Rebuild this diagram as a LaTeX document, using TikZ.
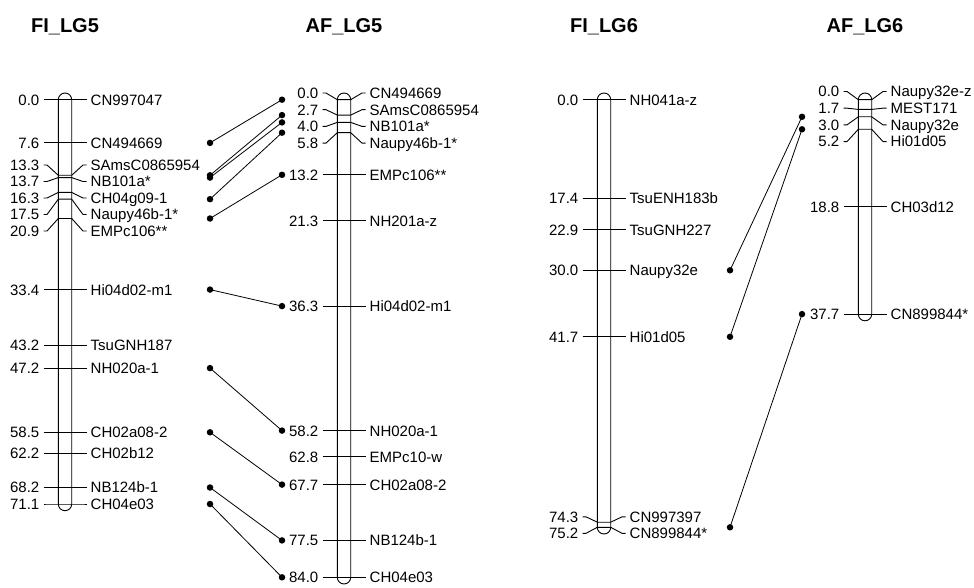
\documentclass[tikz,border=0pt]{standalone}
\usepackage{fontspec}
\setmainfont{Liberation Sans}
\begin{document}
\begin{tikzpicture}[x=1pt,y=-1pt,
  tick/.style={line width=0.9pt},
  chrom/.style={line width=0.9pt},
  conn/.style={line width=0.8pt},
  num/.style={inner sep=0pt, anchor=base east, font=\fontsize{15}{18}\selectfont},
  lab/.style={inner sep=0pt, anchor=base west, font=\fontsize{15}{18}\selectfont},
  ttl/.style={inner sep=0pt, font=\bfseries\fontsize{20}{24}\selectfont},
  dot/.style={circle, fill=black, inner sep=0pt, minimum size=6.5pt}]
\useasboundingbox (0,0) rectangle (974,588);
% chromosome macro: #1 cx, #2 top y, #3 bottom y
\newcommand\chromo[3]{%
  \draw[chrom] (#1-6.7,#3) -- (#1-6.7,#2) arc[start angle=180, end angle=0, radius=6.7pt]
    -- (#1+6.7,#3) arc[start angle=0, end angle=-180, radius=6.7pt] -- cycle;}
% marker macro: #1 id, #2 cx, #3 marker y, #4 label y, #5 number, #6 name
\newcommand\mk[6]{%
  \draw[tick] (#2-21.5,#4) -- (#2-18,#4) -- (#2-6.7,#3) -- (#2+6.7,#3) -- (#2+18,#4) -- (#2+21.5,#4);
  \node[num] (#1n) at (#2-25.5,#4+5.4) {#5};
  \node[lab] (#1l) at (#2+25.5,#4+5.4) {#6};}

% titles
\node[ttl] (t1) at (65,27) {FI\_LG5};
\node[ttl] (t2) at (344,27) {AF\_LG5};
\node[ttl] (t3) at (604,27) {FI\_LG6};
\node[ttl] (t4) at (865,27) {AF\_LG6};

% FI_LG5
\chromo{65}{99.7}{504.0}
\mk{a1}{65}{99.7}{99.7}{0.0}{CN997047}
\mk{a2}{65}{142.9}{142.9}{7.6}{CN494669}
\mk{a3}{65}{175.3}{165}{13.3}{SAmsC0865954}
\mk{a4}{65}{177.6}{181.5}{13.7}{NB101a*}
\mk{a5}{65}{192.4}{198}{16.3}{CH04g09-1}
\mk{a6}{65}{199.2}{214.5}{17.5}{Naupy46b-1*}
\mk{a7}{65}{218.5}{231}{20.9}{EMPc106**}
\mk{a8}{65}{289.6}{289.6}{33.4}{Hi04d02-m1}
\mk{a9}{65}{345.3}{345.3}{43.2}{TsuGNH187}
\mk{a10}{65}{368.1}{368.1}{47.2}{NH020a-1}
\mk{a11}{65}{432.3}{432.3}{58.5}{CH02a08-2}
\mk{a12}{65}{453.4}{453.4}{62.2}{CH02b12}
\mk{a13}{65}{487.5}{487.5}{68.2}{NB124b-1}
\mk{a14}{65}{504.0}{504.0}{71.1}{CH04e03}

% AF_LG5
\chromo{344}{99.7}{577.3}
\mk{b1}{344}{99.7}{93}{0.0}{CN494669}
\mk{b2}{344}{115.1}{109.7}{2.7}{SAmsC0865954}
\mk{b3}{344}{122.4}{126.4}{4.0}{NB101a*}
\mk{b4}{344}{132.7}{143.1}{5.8}{Naupy46b-1*}
\mk{b5}{344}{174.8}{174.8}{13.2}{EMPc106**}
\mk{b6}{344}{220.8}{220.8}{21.3}{NH201a-z}
\mk{b7}{344}{306.1}{306.1}{36.3}{Hi04d02-m1}
\mk{b8}{344}{430.6}{430.6}{58.2}{NH020a-1}
\mk{b9}{344}{456.8}{456.8}{62.8}{EMPc10-w}
\mk{b10}{344}{484.6}{484.6}{67.7}{CH02a08-2}
\mk{b11}{344}{540.4}{540.4}{77.5}{NB124b-1}
\mk{b12}{344}{577.3}{577.3}{84.0}{CH04e03}

% FI_LG6
\chromo{604}{99.7}{527.3}
\mk{c1}{604}{99.7}{99.7}{0.0}{NH041a-z}
\mk{c2}{604}{198.6}{198.6}{17.4}{TsuENH183b}
\mk{c3}{604}{229.9}{229.9}{22.9}{TsuGNH227}
\mk{c4}{604}{270.3}{270.3}{30.0}{Naupy32e}
\mk{c5}{604}{336.8}{336.8}{41.7}{Hi01d05}
\mk{c6}{604}{522.2}{516.8}{74.3}{CN997397}
\mk{c7}{604}{527.3}{533.3}{75.2}{CN899844*}

% AF_LG6
\chromo{865}{99.7}{314.1}
\mk{d1}{865}{99.7}{91.5}{0.0}{Naupy32e-z}
\mk{d2}{865}{109.4}{108.2}{1.7}{MEST171}
\mk{d3}{865}{116.8}{124.9}{3.0}{Naupy32e}
\mk{d4}{865}{129.3}{141.6}{5.2}{Hi01d05}
\mk{d5}{865}{206.6}{206.6}{18.8}{CH03d12}
\mk{d6}{865}{314.1}{314.1}{37.7}{CN899844*}

% connector dots LG5
\node[dot] (p1) at (210,142.9) {};
\node[dot] (p2) at (210,175.3) {};
\node[dot] (p3) at (210,177.6) {};
\node[dot] (p4) at (210,199.2) {};
\node[dot] (p5) at (210,218.5) {};
\node[dot] (p6) at (210,289.6) {};
\node[dot] (p7) at (210,368.1) {};
\node[dot] (p8) at (210,432.3) {};
\node[dot] (p9) at (210,487.5) {};
\node[dot] (p10) at (210,504.0) {};
\node[dot] (q1) at (282,99.7) {};
\node[dot] (q2) at (282,115.1) {};
\node[dot] (q3) at (282,122.4) {};
\node[dot] (q4) at (282,132.7) {};
\node[dot] (q5) at (282,174.8) {};
\node[dot] (q6) at (282,306.1) {};
\node[dot] (q7) at (282,430.6) {};
\node[dot] (q8) at (282,484.6) {};
\node[dot] (q9) at (282,540.4) {};
\node[dot] (q10) at (282,577.3) {};
\foreach \i in {1,...,10} {\draw[conn] (p\i.center) -- (q\i.center);}

% connector dots LG6
\node[dot] (r1) at (730,270.3) {};
\node[dot] (r2) at (730,336.8) {};
\node[dot] (r3) at (730,527.3) {};
\node[dot] (s1) at (802,116.8) {};
\node[dot] (s2) at (802,129.3) {};
\node[dot] (s3) at (802,314.1) {};
\foreach \i in {1,2,3} {\draw[conn] (r\i.center) -- (s\i.center);}
\end{tikzpicture}
\end{document}
